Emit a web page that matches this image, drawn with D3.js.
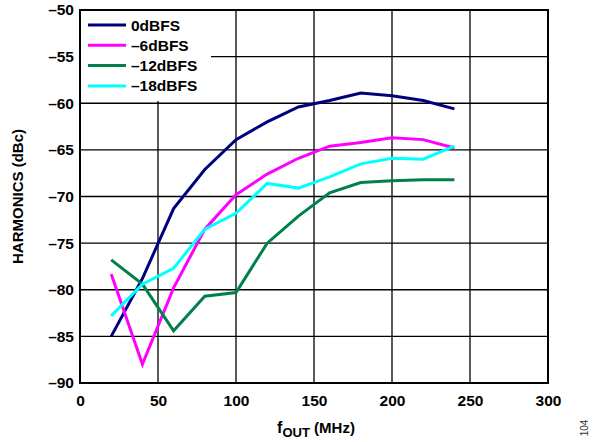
<!DOCTYPE html>
<html>
<head>
<meta charset="utf-8">
<script src="https://cdn.jsdelivr.net/npm/d3@7"></script>
<style>
  body { margin: 0; background: #fff; }
  svg { font-family: "Liberation Sans", Arial, sans-serif; font-weight: bold; }
</style>
</head>
<body>
<div id="root"></div>
<script>
// frequencies (MHz)
var freqs = [20, 40, 60, 80, 100, 120, 140, 160, 180, 200, 220, 240];

// harmonics (dBc) per input level
var dbfs0 = [-85, -78.8, -71.3, -67.1, -63.9, -62, -60.4, -59.7, -58.9, -59.2, -59.7, -60.6];
var dbfs6 = [-78.3, -88, -79.8, -73.5, -69.8, -67.6, -65.9, -64.6, -64.2, -63.7, -63.9, -64.8];
var dbfs12 = [-76.8, -79.4, -84.4, -80.7, -80.3, -75, -72.1, -69.6, -68.5, -68.3, -68.2, -68.2];
var dbfs18 = [-82.8, -79.4, -77.7, -73.5, -71.8, -68.6, -69.1, -67.9, -66.5, -65.9, -66, -64.6];

var seriesNames = ["0dBFS", "\u20136dBFS", "\u201312dBFS", "\u201318dBFS"];
var seriesColors = ["#00007f", "#ff00ff", "#00804a", "#00ffff"];

var xTicks = [0, 50, 100, 150, 200, 250, 300];
var yTicks = [-50, -55, -60, -65, -70, -75, -80, -85, -90];

var width = 596, height = 442;
var margin = { top: 10, left: 80, right: 48, bottom: 59 };

var svg = d3.select("#root").append("svg")
    .attr("width", width)
    .attr("height", height);

var x = d3.scaleLinear().domain([0, 300]).range([margin.left, width - margin.right]);
var y = d3.scaleLinear().domain([-90, -50]).range([height - margin.bottom, margin.top]);

var fmt = v => v < 0 ? "\u2013" + Math.abs(v) : "" + v;

// grid
var grid = svg.append("g");
grid.selectAll(".vg").data(xTicks.slice(1, -1)).enter().append("line")
    .attr("x1", d => x(d)).attr("x2", d => x(d))
    .attr("y1", y(-50)).attr("y2", y(-90))
    .attr("stroke", "#000").attr("stroke-width", 1.3);
grid.selectAll(".hg").data(yTicks.slice(1, -1)).enter().append("line")
    .attr("x1", x(0)).attr("x2", x(300))
    .attr("y1", d => y(d)).attr("y2", d => y(d))
    .attr("stroke", "#000").attr("stroke-width", 1.3);

// legend background hides the grid behind it
svg.append("rect")
    .attr("x", x(0)).attr("y", y(-50))
    .attr("width", 131).attr("height", 91)
    .attr("fill", "#fff");

// series lines
var allSeries = [dbfs0, dbfs6, dbfs12, dbfs18];
var line = d3.line().x((d, i) => x(freqs[i])).y(d => y(d));

svg.append("g").selectAll("path").data(allSeries).enter().append("path")
    .attr("d", d => line(d))
    .attr("fill", "none")
    .attr("stroke", (d, i) => seriesColors[i])
    .attr("stroke-width", 3)
    .attr("stroke-linejoin", "miter");

// frame
svg.append("rect")
    .attr("x", x(0)).attr("y", y(-50))
    .attr("width", x(300) - x(0)).attr("height", y(-90) - y(-50))
    .attr("fill", "none").attr("stroke", "#000").attr("stroke-width", 2);

// axes (labels only)
var xAxis = d3.axisBottom(x).tickValues(xTicks).tickSize(0).tickPadding(12).tickFormat(fmt);
var yAxis = d3.axisLeft(y).tickValues(yTicks).tickSize(0).tickPadding(6).tickFormat(fmt);

var gx = svg.append("g").attr("transform", "translate(0," + y(-90) + ")").call(xAxis);
var gy = svg.append("g").attr("transform", "translate(" + x(0) + ",0)").call(yAxis);
[gx, gy].forEach(function (g) {
    g.select(".domain").remove();
    g.selectAll("text")
        .attr("font-family", "'Liberation Sans', Arial, sans-serif")
        .attr("font-weight", "bold")
        .attr("font-size", 15.5)
        .attr("fill", "#000");
});

// legend
var legend = svg.append("g").attr("transform", "translate(88,25)");
var rows = legend.selectAll("g").data(seriesNames).enter().append("g")
    .attr("transform", (d, i) => "translate(0," + i * 20.3 + ")");
rows.append("line")
    .attr("x1", 0).attr("x2", 38)
    .attr("stroke", (d, i) => seriesColors[i])
    .attr("stroke-width", 3);
rows.append("text")
    .attr("x", 43).attr("y", 5.5)
    .attr("font-size", 15.5)
    .text(d => d);

// axis titles
svg.append("text")
    .attr("transform", "translate(23," + (y(-70)) + ") rotate(-90)")
    .attr("text-anchor", "middle")
    .attr("font-size", 15)
    .text("HARMONICS (dBc)");

var xt = svg.append("text")
    .attr("x", x(150) + 2).attr("y", 433)
    .attr("text-anchor", "middle")
    .attr("font-size", 16);
xt.append("tspan").text("f");
xt.append("tspan").attr("dy", 4).attr("font-size", 13).text("OUT");
xt.append("tspan").attr("dy", -4).attr("font-size", 15).text(" (MHz)");

svg.append("text")
    .attr("transform", "translate(588,428) rotate(-90)")
    .attr("text-anchor", "middle")
    .attr("font-size", 10)
    .attr("font-weight", "normal")
    .attr("fill", "#333")
    .text("104");
</script>
</body>
</html>
